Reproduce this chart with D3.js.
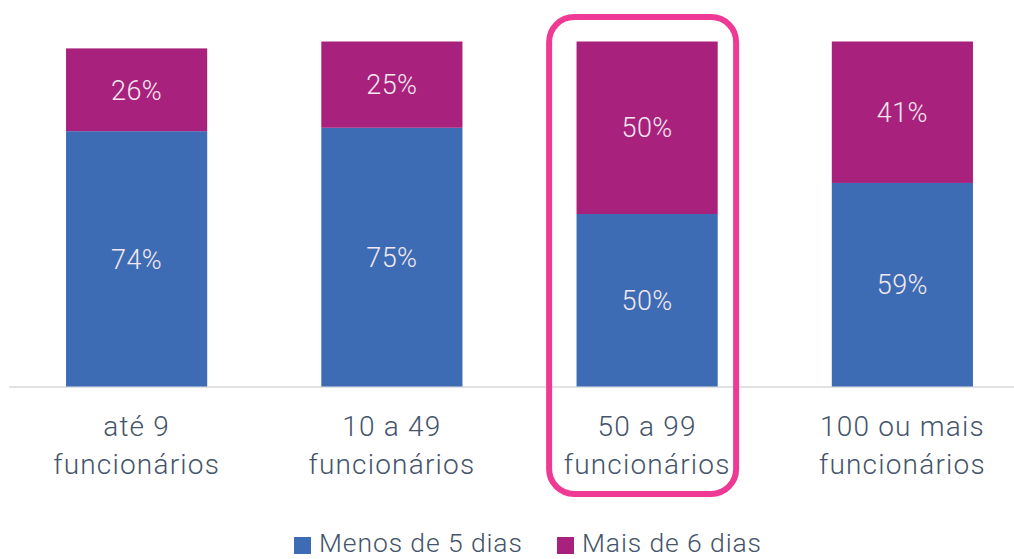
<!DOCTYPE html>
<html><head><meta charset="utf-8">
<script src="https://cdn.jsdelivr.net/npm/d3@7"></script>
<style>body{margin:0;background:#fff}svg{display:block}</style>
</head><body>
<svg id="c" width="1014" height="559"></svg>
<script>
const categories = [["até 9","funcionários"],["10 a 49","funcionários"],["50 a 99","funcionários"],["100 ou mais","funcionários"]];
const seriesNames = ["Menos de 5 dias","Mais de 6 dias"];
const menos = [74, 75, 50, 59];
const mais = [24, 25, 50, 41];
const menosLabels = ["74%","75%","50%","59%"];
const maisLabels = ["26%","25%","50%","41%"];
const highlightIndex = 2;

const colors = ["#3d6cb4", "#a8217c"];
const font = "Roboto, 'DejaVu Sans', sans-serif";
const svg = d3.select("#c");
const x = d3.scaleBand().domain(d3.range(categories.length)).range([9, 1030]).paddingInner(0.447).paddingOuter(0.2235);
const y = d3.scaleLinear().domain([0, 100]).range([386.5, 41.5]);

// baseline
svg.append("line").attr("x1", 9).attr("x2", 1014).attr("y1", 387).attr("y2", 387)
  .attr("stroke", "#d9d9d9").attr("stroke-width", 1.5);

const data = categories.map((c, i) => ({i, vals: [menos[i], mais[i]], labels: [menosLabels[i], maisLabels[i]]}));
data.forEach(d => {
  let base = 0;
  d.vals.forEach((v, s) => {
    const y0 = y(base), y1 = y(base + v);
    svg.append("rect").attr("x", x(d.i)).attr("width", x.bandwidth())
      .attr("y", y1).attr("height", y0 - y1).attr("fill", colors[s]);
    svg.append("text").attr("x", x(d.i) + x.bandwidth() / 2).attr("y", (y0 + y1) / 2)
      .attr("dy", "0.36em").attr("text-anchor", "middle")
      .attr("font-family", font).attr("font-weight", 300).attr("font-size", 27)
      .attr("letter-spacing", 0.5).attr("fill", "#f3e8f0").text(d.labels[s]);
    base += v;
  });
  const t = svg.append("text").attr("text-anchor", "middle")
    .attr("font-family", font).attr("font-weight", 300).attr("font-size", 28)
    .attr("letter-spacing", 1.2).attr("fill", "#44546a");
  categories[d.i].forEach((line, k) => {
    t.append("tspan").attr("x", x(d.i) + x.bandwidth() / 2).attr("y", 436 + k * 38).text(line);
  });
});

// highlight box
const hx = x(highlightIndex) + x.bandwidth() / 2;
svg.append("rect").attr("x", hx - 98).attr("y", 17).attr("width", 187).attr("height", 477)
  .attr("rx", 25).attr("ry", 25).attr("fill", "none").attr("stroke", "#ee3a95").attr("stroke-width", 6);

// legend
const legend = [{x: 294, s: 0}, {x: 557, s: 1}];
legend.forEach(l => {
  svg.append("rect").attr("x", l.x).attr("y", 537).attr("width", 17).attr("height", 17).attr("fill", colors[l.s]);
  svg.append("text").attr("x", l.x + 25).attr("y", 552)
    .attr("font-family", font).attr("font-weight", 300).attr("font-size", 26.5)
    .attr("letter-spacing", 0.9).attr("fill", "#44546a").text(seriesNames[l.s]);
});
</script>
</body></html>
